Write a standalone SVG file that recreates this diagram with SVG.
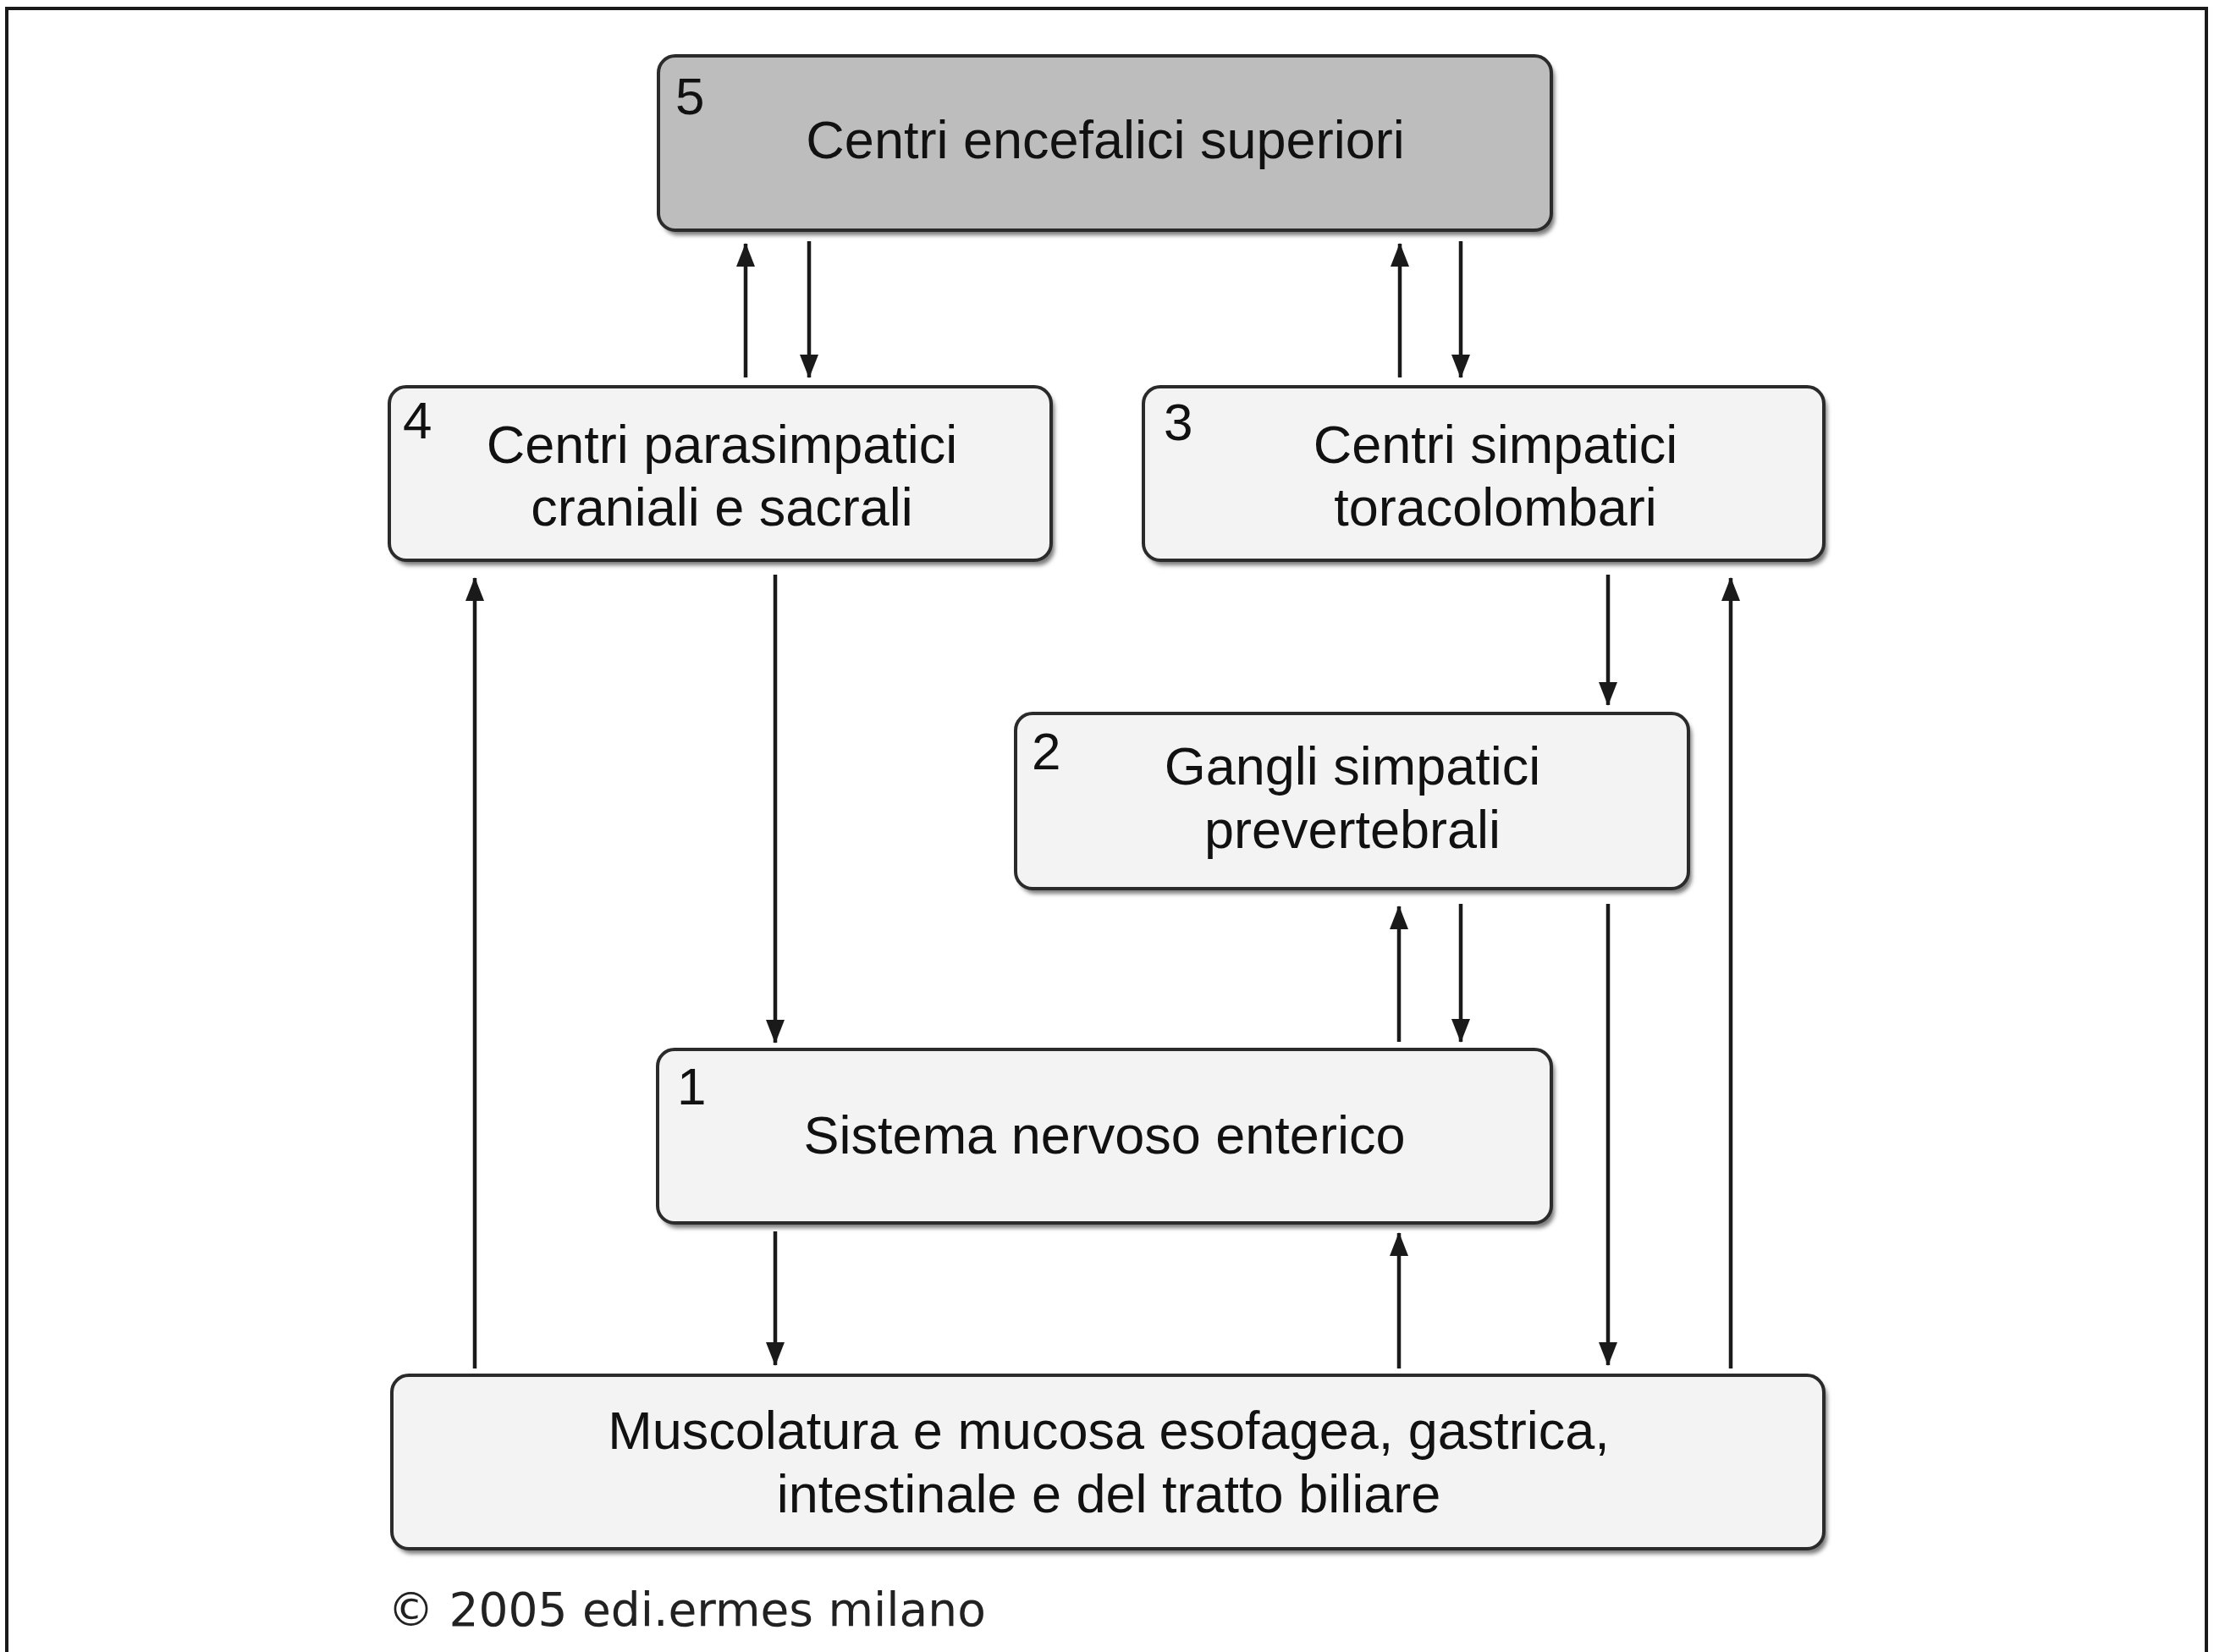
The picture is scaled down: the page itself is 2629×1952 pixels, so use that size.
<svg xmlns="http://www.w3.org/2000/svg" width="2629" height="1952" viewBox="0 0 2629 1952">
<defs>
<marker id="ah" viewBox="0 0 28 22" markerWidth="28" markerHeight="22" markerUnits="userSpaceOnUse" refX="27" refY="11" orient="auto">
<path d="M0,0 L28,11 L0,22 Z" fill="#1a1a1a"/>
</marker>
<filter id="sh" x="-5%" y="-10%" width="115%" height="130%">
<feGaussianBlur stdDeviation="2.5"/>
</filter>
</defs>
<style>
.shadow{fill:#7a7a7a;filter:url(#sh)}
.box{fill:#f3f3f3;stroke:#2b2b2b;stroke-width:4}
.top{fill:#bdbdbd;stroke:#2b2b2b;stroke-width:4}
.lbl{font-family:"Liberation Sans",Arial,sans-serif;font-size:63px;fill:#111;text-anchor:middle}
.num{font-family:"Liberation Sans",Arial,sans-serif;font-size:62px;fill:#111}
.con{stroke:#1a1a1a;stroke-width:4.5;fill:none;marker-end:url(#ah)}
.copy{font-family:"DejaVu Sans",Verdana,sans-serif;font-size:55px;fill:#222}
</style>
<rect width="2629" height="1952" fill="#ffffff"/>
<path d="M8,1960 L8,10 L2607,10 L2607,1960" fill="none" stroke="#1a1a1a" stroke-width="4"/>

<g id="node5">
<rect class="shadow" x="782" y="72" width="1055" height="206" rx="20"/>
<rect class="top" x="778" y="66" width="1055" height="206" rx="20"/>
<text class="num" x="798" y="135">5</text>
<text class="lbl" x="1306" y="187">Centri encefalici superiori</text>
</g>

<g id="node4">
<rect class="shadow" x="464" y="463" width="782" height="205" rx="20"/>
<rect class="box" x="460" y="457" width="782" height="205" rx="20"/>
<text class="num" x="476" y="518">4</text>
<text class="lbl" x="853" y="547">Centri parasimpatici</text>
<text class="lbl" x="853" y="621">craniali e sacrali</text>
</g>

<g id="node3">
<rect class="shadow" x="1355" y="463" width="804" height="205" rx="20"/>
<rect class="box" x="1351" y="457" width="804" height="205" rx="20"/>
<text class="num" x="1375" y="520">3</text>
<text class="lbl" x="1767" y="547">Centri simpatici</text>
<text class="lbl" x="1767" y="621">toracolombari</text>
</g>

<g id="node2">
<rect class="shadow" x="1204" y="849" width="795" height="207" rx="20"/>
<rect class="box" x="1200" y="843" width="795" height="207" rx="20"/>
<text class="num" x="1219" y="909">2</text>
<text class="lbl" x="1598" y="927">Gangli simpatici</text>
<text class="lbl" x="1598" y="1002">prevertebrali</text>
</g>

<g id="node1">
<rect class="shadow" x="781" y="1246" width="1056" height="205" rx="20"/>
<rect class="box" x="777" y="1240" width="1056" height="205" rx="20"/>
<text class="num" x="800" y="1305">1</text>
<text class="lbl" x="1305" y="1363">Sistema nervoso enterico</text>
</g>

<g id="node6">
<rect class="shadow" x="467" y="1631" width="1692" height="205" rx="20"/>
<rect class="box" x="463" y="1625" width="1692" height="205" rx="20"/>
<text class="lbl" x="1310" y="1712">Muscolatura e mucosa esofagea, gastrica,</text>
<text class="lbl" x="1310" y="1787">intestinale e del tratto biliare</text>
</g>

<g id="connectors">
<line class="con" x1="881" y1="446" x2="881" y2="288"/>
<line class="con" x1="956" y1="285" x2="956" y2="446"/>
<line class="con" x1="1654" y1="446" x2="1654" y2="288"/>
<line class="con" x1="1726" y1="285" x2="1726" y2="446"/>
<line class="con" x1="561" y1="1617" x2="561" y2="683"/>
<line class="con" x1="916" y1="679" x2="916" y2="1232"/>
<line class="con" x1="1900" y1="679" x2="1900" y2="833"/>
<line class="con" x1="2045" y1="1617" x2="2045" y2="683"/>
<line class="con" x1="1653" y1="1231" x2="1653" y2="1071"/>
<line class="con" x1="1726" y1="1068" x2="1726" y2="1231"/>
<line class="con" x1="1900" y1="1068" x2="1900" y2="1613"/>
<line class="con" x1="916" y1="1455" x2="916" y2="1613"/>
<line class="con" x1="1653" y1="1617" x2="1653" y2="1457"/>
</g>

<text class="copy" x="458" y="1921">© 2005 edi.ermes milano</text>
</svg>
